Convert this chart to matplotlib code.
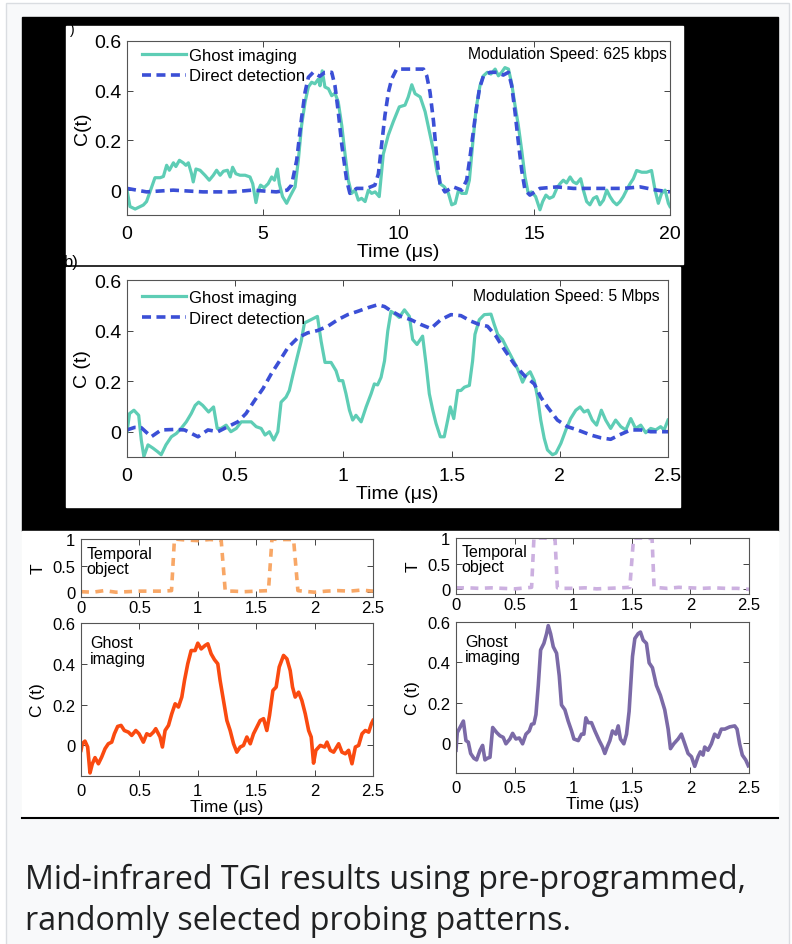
import numpy as np
import matplotlib.pyplot as plt
from matplotlib.patches import Rectangle

# --- data (time, C(t)) ---
ghost_a = [(0, 0), (0.11, -0.066), (0.3, -0.076), (0.6, -0.06), (0.72, -0.046), (0.91, 0.013),
           (1.03, 0.05), (1.22, 0.05), (1.34, 0.055), (1.46, 0.1), (1.56, 0.08), (1.71, 0.11),
           (1.8, 0.095), (1.93, 0.12), (2.07, 0.11), (2.17, 0.1), (2.26, 0.11), (2.38, 0.065),
           (2.44, 0.033), (2.54, 0.085), (2.69, 0.08), (2.87, 0.06), (3.03, 0.04), (3.18, 0.06),
           (3.3, 0.08), (3.43, 0.06), (3.55, 0.076), (3.7, 0.08), (3.8, 0.053), (3.89, 0.092),
           (4.01, 0.066), (4.16, 0.06), (4.35, 0.06), (4.53, 0.053), (4.63, 0.026), (4.75, -0.05),
           (4.84, 0), (4.92, 0.02), (5.05, 0.01), (5.2, 0.026), (5.33, 0.053), (5.43, 0.04),
           (5.54, 0.085), (5.61, 0.026), (5.73, -0.026), (5.88, -0.053), (6.0, -0.026), (6.19, 0.013),
           (6.31, 0.12), (6.43, 0.26), (6.56, 0.355), (6.68, 0.415), (6.8, 0.434), (6.92, 0.428),
           (7.05, 0.447), (7.11, 0.42), (7.19, 0.48), (7.29, 0.415), (7.42, 0.408), (7.54, 0.38),
           (7.66, 0.39), (7.78, 0.355), (7.91, 0.26), (8.03, 0.145), (8.15, 0.04), (8.27, -0.013),
           (8.4, 0), (8.52, -0.04), (8.64, -0.033), (8.77, -0.046), (8.89, 0), (9.01, -0.013),
           (9.14, -0.007), (9.29, -0.026), (9.44, 0.145), (9.62, 0.22), (9.81, 0.276), (10.03, 0.335),
           (10.24, 0.342), (10.36, 0.375), (10.49, 0.424), (10.61, 0.388), (10.8, 0.375), (10.98, 0.316),
           (11.16, 0.224), (11.29, 0.158), (11.41, 0.079), (11.53, 0.026), (11.69, 0.013), (11.84, -0.013),
           (11.96, -0.059), (12.09, -0.053), (12.21, 0), (12.33, -0.013), (12.49, -0.013), (12.61, 0.04),
           (12.73, 0.184), (12.86, 0.33), (13.0, 0.42), (13.13, 0.46), (13.27, 0.474), (13.4, 0.467),
           (13.56, 0.487), (13.68, 0.46), (13.8, 0.474), (13.92, 0.493), (14.05, 0.487), (14.17, 0.428),
           (14.29, 0.342), (14.41, 0.263), (14.54, 0.158), (14.66, 0.053), (14.78, -0.013), (14.9, -0.007),
           (15.05, -0.026), (15.21, -0.079), (15.31, -0.046), (15.43, -0.02), (15.56, -0.033), (15.7, -0.026),
           (15.83, 0.007), (15.95, 0.026), (16.07, 0.04), (16.19, 0.029), (16.32, 0.053), (16.44, 0.033),
           (16.56, 0.026), (16.71, 0.046), (16.81, 0), (16.93, -0.046), (17.05, -0.059), (17.18, -0.033),
           (17.3, -0.026), (17.42, -0.059), (17.55, -0.04), (17.67, 0), (17.79, -0.026), (17.91, -0.046),
           (18.04, -0.059), (18.16, -0.046), (18.28, -0.026), (18.4, 0), (18.53, 0.026), (18.65, 0.046),
           (18.77, 0.079), (18.96, 0.072), (19.14, 0.072), (19.32, 0.079), (19.45, 0), (19.57, -0.053),
           (19.69, -0.013), (19.82, 0), (19.94, -0.053), (20.0, -0.066)]

direct_a = [(0, 0.007), (0.72, -0.007), (1.7, 0), (2.8, -0.007), (3.9, -0.007), (4.6, 0), (5.5, -0.007),
            (5.9, 0), (6.06, 0.02), (6.25, 0.12), (6.43, 0.29), (6.56, 0.395), (6.68, 0.454), (6.86, 0.474),
            (7.1, 0.458), (7.29, 0.474), (7.54, 0.474), (7.66, 0.42), (7.78, 0.316), (7.91, 0.184),
            (8.09, 0.04), (8.21, -0.013), (8.46, 0.007), (8.83, 0.007), (9.13, 0.02), (9.26, 0.066),
            (9.38, 0.184), (9.5, 0.3), (9.63, 0.395), (9.75, 0.447), (9.93, 0.487), (10.42, 0.487),
            (10.92, 0.487), (11.04, 0.46), (11.16, 0.395), (11.29, 0.276), (11.41, 0.13), (11.53, 0.026),
            (11.71, -0.007), (12.02, 0.013), (12.33, 0), (12.51, 0.04), (12.63, 0.13), (12.82, 0.29),
            (12.98, 0.408), (13.13, 0.46), (13.37, 0.474), (13.62, 0.474), (13.86, 0.463), (14.05, 0.474),
            (14.17, 0.42), (14.29, 0.316), (14.41, 0.197), (14.54, 0.079), (14.66, 0), (14.84, -0.02),
            (15.21, 0.007), (15.83, 0.013), (16.44, 0.007), (17.05, 0.007), (17.67, 0.007), (18.28, 0.007),
            (18.9, 0.013), (19.51, 0), (20, -0.007)]

ghost_b = [(0, 0), (0.012, 0.072), (0.032, 0.085), (0.054, 0.065), (0.066, -0.033), (0.078, -0.098),
           (0.097, -0.052), (0.12, -0.065), (0.14, -0.078), (0.158, -0.091), (0.18, -0.052), (0.205, -0.02),
           (0.228, -0.007), (0.25, 0.013), (0.274, 0.039), (0.297, 0.072), (0.315, 0.104), (0.331, 0.117),
           (0.35, 0.104), (0.377, 0.078), (0.4, 0.098), (0.417, 0.013), (0.435, 0.013), (0.458, 0.026),
           (0.48, 0), (0.505, 0.013), (0.528, 0.039), (0.55, 0.039), (0.574, 0.039), (0.597, 0.02),
           (0.62, 0.013), (0.638, -0.013), (0.658, 0), (0.678, -0.033), (0.697, 0), (0.712, 0.117),
           (0.735, 0.137), (0.75, 0.163), (0.766, 0.222), (0.786, 0.293), (0.805, 0.358), (0.82, 0.43),
           (0.85, 0.443), (0.88, 0.456), (0.897, 0.358), (0.915, 0.274), (0.943, 0.274), (0.966, 0.241),
           (0.98, 0.202), (0.997, 0.202), (1.012, 0.15), (1.028, 0.085), (1.043, 0.046), (1.058, 0.065),
           (1.082, 0.039), (1.105, 0.098), (1.128, 0.15), (1.143, 0.189), (1.158, 0.185), (1.174, 0.215),
           (1.19, 0.28), (1.205, 0.398), (1.22, 0.476), (1.243, 0.463), (1.258, 0.452), (1.282, 0.482),
           (1.305, 0.456), (1.32, 0.365), (1.34, 0.345), (1.366, 0.378), (1.382, 0.267), (1.397, 0.15),
           (1.413, 0.085), (1.428, 0.033), (1.448, -0.02), (1.466, -0.02), (1.482, 0.046), (1.494, 0.098),
           (1.51, 0.052), (1.528, 0.163), (1.543, 0.163), (1.559, 0.176), (1.582, 0.183), (1.597, 0.28),
           (1.608, 0.385), (1.628, 0.443), (1.651, 0.463), (1.682, 0.465), (1.697, 0.424), (1.713, 0.385),
           (1.735, 0.365), (1.758, 0.326), (1.782, 0.287), (1.805, 0.248), (1.828, 0.196), (1.843, 0.222),
           (1.863, 0.237), (1.882, 0.202), (1.897, 0.137), (1.912, 0.046), (1.928, -0.026), (1.943, -0.072),
           (1.966, -0.091), (1.982, -0.085), (2.005, -0.046), (2.028, 0.007), (2.05, 0.052), (2.074, 0.085),
           (2.094, 0.098), (2.112, 0.078), (2.13, 0.085), (2.15, 0.046), (2.17, 0.026), (2.192, 0.085),
           (2.212, 0.046), (2.235, 0.013), (2.258, 0.046), (2.282, 0.02), (2.305, 0.007), (2.328, 0.052),
           (2.35, 0.013), (2.374, 0.026), (2.397, -0.004), (2.42, 0.013), (2.443, 0.007), (2.466, 0.02),
           (2.482, 0.007), (2.5, 0.046)]

direct_b = [(0, 0.007), (0.035, 0.017), (0.066, 0.016), (0.112, -0.02), (0.158, 0.007), (0.22, 0.009),
            (0.266, 0.007), (0.328, -0.02), (0.374, 0.007), (0.42, 0), (0.466, 0.02), (0.512, 0.039),
            (0.55, 0.072), (0.59, 0.124), (0.628, 0.17), (0.666, 0.228), (0.705, 0.28), (0.743, 0.332),
            (0.79, 0.372), (0.835, 0.391), (0.88, 0.4), (0.928, 0.417), (0.974, 0.443), (1.02, 0.463),
            (1.066, 0.476), (1.112, 0.49), (1.158, 0.502), (1.19, 0.495), (1.22, 0.478), (1.266, 0.456),
            (1.312, 0.443), (1.358, 0.424), (1.404, 0.408), (1.45, 0.443), (1.497, 0.463), (1.543, 0.459),
            (1.59, 0.437), (1.628, 0.424), (1.666, 0.417), (1.705, 0.378), (1.743, 0.326), (1.79, 0.267),
            (1.836, 0.222), (1.882, 0.189), (1.912, 0.137), (1.943, 0.098), (1.989, 0.046), (2.035, 0.02),
            (2.082, 0.007), (2.143, -0.013), (2.189, -0.024), (2.235, -0.03), (2.282, -0.01), (2.328, 0.007),
            (2.374, 0.007), (2.42, 0), (2.5, 0)]

temporal_c = [(0, 0.01), (0.1, 0.0), (0.2, 0.03), (0.3, 0.0), (0.4, 0.01), (0.5, 0.02), (0.6, 0.02),
              (0.7, 0.02), (0.775, 0.03), (0.8, 1.0), (0.9, 0.98), (1.0, 0.97), (1.1, 0.99), (1.2, 0.98),
              (1.235, 0.02), (1.3, 0.02), (1.4, 0.01), (1.5, 0.02), (1.605, 0.03), (1.635, 1.0), (1.7, 0.99),
              (1.82, 0.99), (1.857, 0.03), (1.9, 0.02), (2.0, 0.0), (2.1, 0.02), (2.2, 0.03), (2.3, 0.02),
              (2.4, 0.04), (2.5, 0.02)]

ghost_c = [(0, -0.024), (0.011, 0.008), (0.034, 0.021), (0.057, -0.008), (0.077, -0.135), (0.097, -0.09),
           (0.12, -0.06), (0.149, -0.09), (0.177, -0.057), (0.206, -0.016), (0.234, 0.008), (0.263, 0.016),
           (0.286, 0.057), (0.314, 0.093), (0.343, 0.098), (0.371, 0.073), (0.406, 0.065), (0.434, 0.049),
           (0.469, 0.073), (0.497, 0.057), (0.534, 0.016), (0.563, 0.057), (0.591, 0.049), (0.62, 0.065),
           (0.64, 0.082), (0.677, 0.041), (0.697, -0.008), (0.72, 0.073), (0.749, 0.098), (0.777, 0.155),
           (0.806, 0.204), (0.834, 0.188), (0.863, 0.237), (0.886, 0.318), (0.914, 0.4), (0.943, 0.465),
           (0.977, 0.465), (1.0, 0.501), (1.029, 0.473), (1.063, 0.49), (1.086, 0.498), (1.114, 0.449),
           (1.143, 0.42), (1.171, 0.4), (1.191, 0.318), (1.22, 0.22), (1.249, 0.122), (1.277, 0.073),
           (1.306, 0.008), (1.334, -0.033), (1.363, -0.008), (1.391, 0), (1.42, 0.041), (1.449, 0.008),
           (1.477, 0.057), (1.506, 0.09), (1.534, 0.122), (1.563, 0.131), (1.591, 0.073), (1.614, 0.147),
           (1.643, 0.269), (1.671, 0.286), (1.697, 0.384), (1.734, 0.441), (1.763, 0.424), (1.791, 0.367),
           (1.811, 0.286), (1.834, 0.237), (1.863, 0.261), (1.891, 0.22), (1.92, 0.155), (1.949, 0.073),
           (1.971, 0.041), (1.991, -0.087), (2.011, -0.024), (2.049, 0), (2.086, -0.008), (2.106, 0.016),
           (2.134, -0.024), (2.163, -0.033), (2.206, 0.008), (2.234, -0.033), (2.263, -0.041), (2.291, -0.024),
           (2.32, -0.09), (2.349, -0.008), (2.377, 0), (2.406, 0.057), (2.434, 0.073), (2.463, 0.065),
           (2.486, 0.106), (2.5, 0.122)]

temporal_d = [(0, 0.03), (0.1, 0.03), (0.2, 0.02), (0.3, 0.03), (0.4, 0.02), (0.5, 0.01), (0.6, 0.03),
              (0.645, 0.04), (0.665, 1.0), (0.75, 1.0), (0.845, 0.98), (0.865, 0.03), (0.9, 0.02),
              (1.0, 0.02), (1.1, 0.03), (1.2, 0.01), (1.3, 0.02), (1.4, 0.03), (1.483, 0.04), (1.515, 1.0),
              (1.6, 1.0), (1.673, 0.99), (1.69, 0.04), (1.8, 0.02), (1.9, 0.04), (2.0, 0.03), (2.1, 0.02),
              (2.2, 0.03), (2.3, 0.02), (2.4, 0.02), (2.5, 0.0)]

ghost_d = [(0, -0.037), (0.011, 0.051), (0.034, 0.076), (0.063, 0.108), (0.085, 0.011), (0.105, 0.003),
           (0.125, -0.053), (0.153, -0.077), (0.176, -0.085), (0.205, -0.037), (0.227, -0.013), (0.247, -0.085),
           (0.267, -0.077), (0.29, -0.072), (0.313, 0.076), (0.347, 0.051), (0.375, 0.035), (0.403, 0.027),
           (0.426, -0.005), (0.46, 0.019), (0.483, 0.047), (0.511, 0.019), (0.54, 0.024), (0.568, -0.005),
           (0.597, 0.043), (0.625, 0.059), (0.645, 0.092), (0.665, 0.095), (0.682, 0.14), (0.702, 0.285),
           (0.722, 0.461), (0.75, 0.494), (0.773, 0.542), (0.787, 0.582), (0.807, 0.542), (0.83, 0.477),
           (0.858, 0.445), (0.881, 0.333), (0.9, 0.188), (0.929, 0.164), (0.957, 0.108), (0.986, 0.059),
           (1.006, 0.019), (1.043, 0.011), (1.071, 0.043), (1.091, 0.043), (1.108, 0.124), (1.128, 0.1),
           (1.156, 0.1), (1.185, 0.059), (1.222, 0.011), (1.25, -0.021), (1.27, -0.053), (1.29, -0.021),
           (1.313, 0.011), (1.335, 0.059), (1.364, 0.043), (1.384, 0.084), (1.403, 0.019), (1.432, -0.005),
           (1.455, 0.043), (1.477, 0.156), (1.506, 0.429), (1.526, 0.518), (1.554, 0.542), (1.574, 0.55),
           (1.597, 0.51), (1.625, 0.494), (1.648, 0.397), (1.676, 0.373), (1.71, 0.285), (1.744, 0.236),
           (1.781, 0.164), (1.81, 0.068), (1.83, -0.029), (1.858, -0.005), (1.895, 0.019), (1.923, 0.043),
           (1.952, -0.005), (1.98, -0.053), (2.009, -0.069), (2.037, -0.117), (2.065, -0.069), (2.085, -0.045),
           (2.108, -0.061), (2.122, -0.021), (2.15, -0.037), (2.179, -0.005), (2.207, 0.043), (2.236, 0.027),
           (2.264, 0.068), (2.293, 0.068), (2.335, 0.079), (2.378, 0.084), (2.398, 0.068), (2.42, -0.005),
           (2.443, -0.061), (2.472, -0.085), (2.494, -0.114)]

ticks_long = [0, 5, 10, 15, 20]
ticks_short = [0, 0.5, 1, 1.5, 2, 2.5]
tick_labels_short = ['0', '0.5', '1', '1.5', '2', '2.5']
ticks_c = [0, 0.2, 0.4, 0.6]
caption = "Mid-infrared TGI results using pre-programmed,\nrandomly selected probing patterns."

TEAL = '#5ecdb5'
BLUE = '#3b4fd6'
ORANGE = '#fa4a10'
ORANGE_L = '#f8a766'
PURPLE = '#7b6aa7'
PURPLE_L = '#ccb0e0'
SANS = ['Liberation Sans', 'DejaVu Sans']

W, H = 792, 945
fig = plt.figure(figsize=(W / 100, H / 100), dpi=100)

# page, card and the black image frame
bg = fig.add_axes([0, 0, 1, 1])
bg.set_xlim(0, W)
bg.set_ylim(H, 0)
bg.axis('off')
bg.add_patch(Rectangle((0, 0), W, H, color='white'))
bg.add_patch(Rectangle((6, 4), 783, 960, facecolor='#f8f9fa', edgecolor='#dadde1', lw=1))
bg.add_patch(Rectangle((22, 18), 756, 514, color='black'))
bg.add_patch(Rectangle((66, 27), 617, 238, color='white'))
bg.add_patch(Rectangle((66, 268), 614, 240, color='white'))
bg.add_patch(Rectangle((22, 532), 378, 286, color='white'))
bg.add_patch(Rectangle((400, 532), 378, 286, color='white'))
bg.plot([22, 778], [818.5, 818.5], color='black', lw=1.5)
bg.text(70, 30, ')', fontsize=10, family=SANS, va='center')
bg.text(64, 263, 'b)', fontsize=12, family=SANS, va='center')
bg.text(25, 901, caption, fontsize=23.2, family=['Open Sans', 'DejaVu Sans'],
        va='center', ha='left', linespacing=1.3, color='#202122')


def px_axes(x0, y0, x1, y1):
    return fig.add_axes([x0 / W, 1 - y1 / H, (x1 - x0) / W, (y1 - y0) / H])


def style(ax, size):
    ax.tick_params(direction='in', top=True, right=True, length=4, width=0.7,
                   color='#444444', labelsize=size, pad=4)
    for s in ax.spines.values():
        s.set_color('#555555')
        s.set_linewidth(0.8)
    for lab in ax.get_xticklabels() + ax.get_yticklabels():
        lab.set_family(SANS)
    ax.set_facecolor('white')


def xy(pairs):
    a = np.array(pairs)
    return a[:, 0], a[:, 1]


# --- panel a ---
ax = px_axes(127, 42, 670, 216)
t, v = xy(ghost_a)
ax.plot(t, v, color=TEAL, lw=2.3, label='Ghost imaging')
t, v = xy(direct_a)
ax.plot(t, v, color=BLUE, lw=2.6, dashes=(2.5, 1.5), label='Direct detection')
ax.set_xlim(0, 20)
ax.set_ylim(-0.1, 0.6)
ax.set_xticks(ticks_long)
ax.set_yticks(ticks_c)
ax.set_yticklabels(['0', '0.2', '0.4', '0.6'])
style(ax, 14)
ax.tick_params(axis='x', pad=7)
ax.set_xlabel('Time (μs)', family=SANS, fontsize=14, labelpad=1)
ax.set_ylabel('C(t)', family=SANS, fontsize=14, labelpad=2)
ax.legend(loc='upper left', bbox_to_anchor=(0.01, 1.02), frameon=False,
          prop={'family': SANS, 'size': 12},
          handlelength=2.6, handletextpad=0.2, labelspacing=0.35, borderaxespad=0.2)
ax.text(0.995, 0.93, 'Modulation Speed: 625 kbps', transform=ax.transAxes, ha='right',
        va='center', family=SANS, fontsize=11.3)

# --- panel b ---
ax = px_axes(127, 281, 668, 458)
t, v = xy(ghost_b)
ax.plot(t, v, color=TEAL, lw=2.3, label='Ghost imaging')
t, v = xy(direct_b)
ax.plot(t, v, color=BLUE, lw=2.6, dashes=(2.5, 1.5), label='Direct detection')
ax.set_xlim(0, 2.5)
ax.set_ylim(-0.1, 0.6)
ax.set_xticks(ticks_short)
ax.set_xticklabels(tick_labels_short)
ax.set_yticks(ticks_c)
ax.set_yticklabels(['0', '0.2', '0.4', '0.6'])
style(ax, 14)
ax.tick_params(axis='x', pad=7)
ax.set_xlabel('Time (μs)', family=SANS, fontsize=14, labelpad=1)
ax.set_ylabel('C (t)', family=SANS, fontsize=14, labelpad=2)
ax.legend(loc='upper left', bbox_to_anchor=(0.01, 1.0), frameon=False,
          prop={'family': SANS, 'size': 12},
          handlelength=2.6, handletextpad=0.2, labelspacing=0.35, borderaxespad=0.2)
ax.text(0.985, 0.91, 'Modulation Speed: 5 Mbps', transform=ax.transAxes, ha='right',
        va='center', family=SANS, fontsize=11.3)


# --- panels c and d ---
def small_pair(x0, x1, top, bottom, temporal, ghost, light, dark):
    at = px_axes(x0, top[0], x1, top[1])
    t, v = xy(temporal)
    at.plot(t, v, color=light, lw=2.6, dashes=(2.2, 1.8))
    at.set_xlim(0, 2.5)
    at.set_ylim(-0.09, 1.0)
    at.set_xticks(ticks_short)
    at.set_xticklabels(tick_labels_short)
    at.set_yticks([0, 0.5, 1])
    at.set_yticklabels(['0', '0.5', '1'])
    style(at, 12)
    at.tick_params(axis='x', pad=2)
    at.set_ylabel('T', family=SANS, fontsize=12.5, labelpad=5)
    at.text(0.02, 0.62, 'Temporal\nobject', transform=at.transAxes, family=SANS,
            fontsize=11.5, va='center', linespacing=1.0)

    ab = px_axes(x0, bottom[0], x1, bottom[1])
    t, v = xy(ghost)
    ab.plot(t, v, color=dark, lw=2.6)
    ab.set_xlim(0, 2.5)
    ab.set_ylim(-0.15, 0.6)
    ab.set_xticks(ticks_short)
    ab.set_xticklabels(tick_labels_short)
    ab.set_yticks(ticks_c)
    ab.set_yticklabels(['0', '0.2', '0.4', '0.6'])
    style(ab, 12)
    ab.tick_params(axis='x', pad=5)
    ab.set_xlabel('Time (μs)', family=SANS, fontsize=12.5, labelpad=1)
    ab.set_ylabel('C (t)', family=SANS, fontsize=12.5, labelpad=5)
    ab.text(0.03, 0.82, 'Ghost\nimaging', transform=ab.transAxes, family=SANS,
            fontsize=11.5, va='center', linespacing=1.05)


small_pair(81, 373, (540, 598), (624, 777), temporal_c, ghost_c, ORANGE_L, ORANGE)
small_pair(456, 749, (539, 595), (623, 774), temporal_d, ghost_d, PURPLE_L, PURPLE)

fig.savefig('out.png', dpi=100, facecolor='white')
